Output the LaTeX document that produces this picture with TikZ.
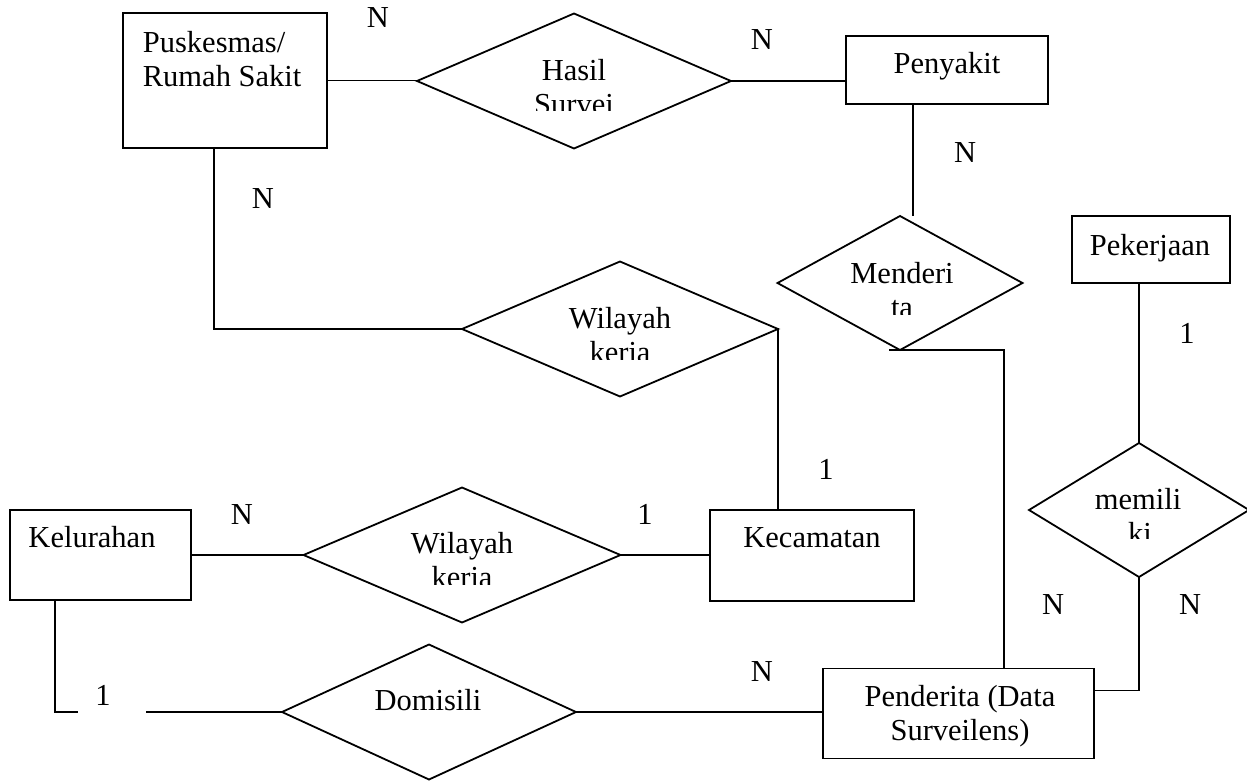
\documentclass[tikz,border=0pt]{standalone}
\usepackage{fontspec}
\setmainfont{Liberation Serif}
\usetikzlibrary{shapes.geometric}

\begin{document}
\begin{tikzpicture}[x=1pt,y=-1pt,
  font=\fontsize{30.5}{34}\selectfont,
  line width=1.8pt,
  entity/.style={draw, rectangle, inner sep=0pt, outer sep=0pt},
  relation/.style={draw, diamond, inner sep=0pt, outer sep=0pt},
  word/.style={anchor=base, inner sep=0pt},
  card/.style={inner sep=0pt},
  link/.style={draw, line cap=rect}]
\useasboundingbox (0,0) rectangle (1247,782);

% entities
\node[entity, minimum width=204pt, minimum height=135pt] (pusk) at (225,80.5) {};
\node[entity, minimum width=202pt, minimum height=68pt]  (penyakit) at (947,70) {};
\node[entity, minimum width=158pt, minimum height=67pt]  (pekerjaan) at (1151,249.5) {};
\node[entity, minimum width=181pt, minimum height=90pt]  (kelurahan) at (100.5,555) {};
\node[entity, minimum width=204pt, minimum height=91pt]  (kecamatan) at (812,555.5) {};
\node[entity, minimum width=271pt, minimum height=90pt]  (penderita) at (958.5,713.5) {};

% relationships
\node[relation, minimum width=314pt, minimum height=135pt] (hasil) at (574,81) {};
\node[relation, minimum width=245pt, minimum height=134pt] (menderita) at (900,283) {};
\node[relation, minimum width=316pt, minimum height=135pt] (wk1) at (620,329) {};
\node[relation, minimum width=317pt, minimum height=135pt] (wk2) at (462,555) {};
\node[relation, minimum width=220pt, minimum height=134pt] (memiliki) at (1139,510) {};
\node[relation, minimum width=294pt, minimum height=135pt] (domisili) at (429,712) {};

% entity texts
\node[word, anchor=base west] (tPusk1) at (142,52) {Puskesmas/};
\node[word, anchor=base west] (tPusk2) at (142,86) {Rumah Sakit};
\node[word] (tPenyakit) at (947,73) {Penyakit};
\node[word] (tPekerjaan) at (1150,255) {Pekerjaan};
\node[word] (tKelurahan) at (92,547) {Kelurahan};
\node[word] (tKecamatan) at (812,547) {Kecamatan};
\node[word] (tPenderita1) at (960,706) {Penderita (Data};
\node[word] (tPenderita2) at (960,740) {Surveilens)};
\node[word] (tDomisili) at (428,710) {Domisili};

% relationship texts, cut off below the first line
\begin{scope}
  \clip (420,40) rectangle (730,110);
  \node[word] (tHasil1) at (574,80) {Hasil};
  \node[word] (tHasil2) at (574,114) {Survei};
\end{scope}
\begin{scope}
  \clip (790,240) rectangle (1015,314);
  \node[word] (tMend1) at (902,283) {Menderi};
  \node[word] (tMend2) at (902,317) {ta};
\end{scope}
\begin{scope}
  \clip (470,290) rectangle (770,359);
  \node[word] (tWk1a) at (620,328) {Wilayah};
  \node[word] (tWk1b) at (620,362) {kerja};
\end{scope}
\begin{scope}
  \clip (310,515) rectangle (612,584);
  \node[word] (tWk2a) at (462,553) {Wilayah};
  \node[word] (tWk2b) at (462,587) {kerja};
\end{scope}
\begin{scope}
  \clip (1035,470) rectangle (1240,538);
  \node[word] (tMem1) at (1138,509) {memili};
  \node[word] (tMem2) at (1140,543) {ki};
\end{scope}

% connectors
\coordinate (mtop) at (913,215);
\path[link] (pusk.east) -- (pusk.east -| hasil.west);
\path[link] (hasil.east) -- (hasil.east -| penyakit.west);
\path[link] (mtop |- penyakit.south) -- (mtop);
\path[link] ([xshift=-11pt]pusk.south) |- (wk1.west);
\path[link] (wk1.east) -- (wk1.east |- kecamatan.north);
\path[link] ([xshift=-10pt]menderita.south) -| ([xshift=45.5pt]penderita.north);
\path[link] (memiliki.north |- pekerjaan.south) -- (memiliki.north);
\path[link] (memiliki.south) |- ([yshift=23pt]penderita.east);
\path[link] (kelurahan.east) -- (kelurahan.east -| wk2.west);
\path[link] (wk2.east) -- (wk2.east -| kecamatan.west);
\path[link] ([xshift=-45.5pt]kelurahan.south) |- (domisili.west);
\path[link] (domisili.east) -- (domisili.east -| penderita.west);

% label background over the Kelurahan--Domisili line
\fill[white] (78,688) rectangle (146,712.6);

% cardinalities
\node[card] (c1) at (378,18) {N};
\node[card] (c2) at (762,40) {N};
\node[card] (c3) at (965,153) {N};
\node[card] (c4) at (263,199) {N};
\node[card] (c5) at (1187,333) {1};
\node[card] (c6) at (826,469) {1};
\node[card] (c7) at (242,515) {N};
\node[card] (c8) at (645,514) {1};
\node[card] (c9) at (1053,605) {N};
\node[card] (c10) at (1190,605) {N};
\node[card] (c11) at (762,672) {N};
\node[card] (c12) at (103,695) {1};
\end{tikzpicture}
\end{document}
